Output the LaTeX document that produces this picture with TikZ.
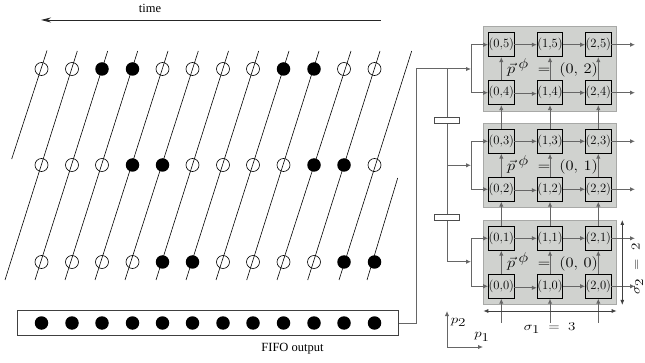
\documentclass[tikz,border=0pt]{standalone}
\usepackage{fontspec}
\usepackage{amsmath}
\newfontfamily\tms{Liberation Serif}
\usetikzlibrary{arrows.meta}
\definecolor{wire}{HTML}{666666}
\definecolor{panel}{HTML}{D0D2CF}
\definecolor{panelb}{HTML}{A8A9A7}
\tikzset{
  x=1pt,y=-1pt,
  hatch/.style={black,line width=0.6pt},
  opendot/.style={circle,draw=black,line width=0.6pt,minimum size=13pt,inner sep=0pt},
  fulldot/.style={circle,fill=black,minimum size=13.5pt,inner sep=0pt},
  wireline/.style={draw=wire,line width=1pt},
  wirearrow/.style={wireline,-{Latex[length=5pt,width=4.5pt]}},
  dblarrow/.style={draw=black!75,line width=0.8pt,{Latex[length=5pt,width=4pt]}-{Latex[length=5pt,width=4pt]}},
  panelbox/.style={draw=panelb,fill=panel,line width=0.9pt,minimum width=133.4pt,minimum height=84.4pt,inner sep=0pt},
  pebox/.style={draw=black,line width=0.8pt,minimum size=24pt,inner sep=0pt,font=\fontsize{12.6}{13}\selectfont},
  capbox/.style={draw=black!70,fill=white,line width=0.8pt,minimum width=25pt,minimum height=6.4pt,inner sep=0pt},
  captext/.style={font=\tms\fontsize{12.5}{14}\selectfont,inner sep=0pt},
}
\begin{document}
\begin{tikzpicture}
\useasboundingbox (0,0) rectangle (645,363);
% time
\node[captext] (timelabel) at (150,8) {time};
\coordinate (timeR) at (380.5,20);
\coordinate (timeL) at (41,20);
\draw[line width=0.9pt,black!85,-{Stealth[length=10pt,width=5pt]}] (timeR) -- (timeL);
% hatch lines
\coordinate (sA) at (47,50.5); \coordinate (sB) at (11.7,159);
\draw[hatch] (sA) -- (sB);
\foreach \i/\b/\t in {1/5/77.3,2/35/107.7,3/65/137.7,4/95/168,5/125/198.3,6/156/228.5,7/186/258.7,8/216/289,9/246.7/319,10/277/351,11/307.7/380,12/339/411.7}{
  \coordinate (hb\i) at (\b,280);
  \coordinate (ht\i) at (\t,51);
  \draw[hatch] (hb\i) -- (ht\i);
}
\coordinate (hb13) at (367,280); \coordinate (ht13) at (397.7,178);
\draw[hatch] (hb13) -- (ht13);
% dots
\foreach \n/\x/\a/\b/\c in {
 1/41.5/o/o/o,2/72/o/o/o,3/102/f/o/o,4/132.5/f/f/o,5/162.5/o/f/f,6/192.5/o/o/f,
 7/223/o/o/o,8/253/o/o/o,9/283.5/f/o/o,10/314/f/f/o,11/344/o/f/f,12/374.5/o/o/f}{
  \if\a f\node[fulldot] (ra\n) at (\x,69) {};\else\node[opendot] (ra\n) at (\x,69) {};\fi
  \if\b f\node[fulldot] (rb\n) at (\x,165) {};\else\node[opendot] (rb\n) at (\x,165) {};\fi
  \if\c f\node[fulldot] (rc\n) at (\x,262) {};\else\node[opendot] (rc\n) at (\x,262) {};\fi
}
% FIFO
\node[draw=black!75,line width=0.9pt,minimum width=381pt,minimum height=24.5pt,inner sep=0pt] (fifo) at (208,323) {};
\foreach \n/\x in {1/41.5,2/72,3/102,4/132.5,5/162.5,6/192.5,7/223,8/253,9/283.5,10/314,11/344,12/374.5}{
  \node[fulldot] (fd\n) at (\x,323) {};
}
\node[captext] (fifolabel) at (292.5,349) {FIFO output};
% panels
\node[panelbox] (panelT) at (550,68.8) {};
\node[panelbox] (panelM) at (550,165.5) {};
\node[panelbox] (panelB) at (550,262.3) {};
% panel labels
\foreach \nm/\y/\v in {T/68/2,M/165/1,B/262/0}{
  \node[inner sep=0pt] (lab\nm) at (552.5,\y) {\scalebox{1.14}[1]{\fontsize{13.5}{15}\selectfont $\vec{p}^{\,\,\textstyle\phi}\;=\;(0,\,\v)$}};
}
% PEs
\foreach \c/\x in {0/501.3,1/550,2/598.3}{
  \foreach \r/\y in {0/286.3,1/238.3,2/189.3,3/141.3,4/92.7,5/44.7}{
    \node[pebox] (pe\c\r) at (\x,\y) {(\c,\r)};
  }
}
% horizontal wires
\foreach \r/\s in {0/1.5,1/0,2/1,3/0,4/1,5/0}{
  \draw[wirearrow] ([yshift=-\s pt]pe0\r.east) -- ([yshift=-\s pt]pe1\r.west);
  \draw[wirearrow] (pe1\r.east) -- (pe2\r.west);
  \coordinate (out\r) at (635,0 |- pe2\r.east);
  \draw[wirearrow] (pe2\r.east) -- (out\r);
}
% vertical wires
\foreach \c in {0,1,2}{
  \foreach \r/\u in {0/1,1/2,2/3,3/4,4/5}{
    \draw[wirearrow] (pe\c\r.north) -- (pe\c\u.south);
  }
  \coordinate (in\c) at (pe\c0 |- 0,322.7);
  \draw[wirearrow] (in\c) -- (pe\c0.south);
}
% feed network
\coordinate (fo) at (416.7,323);
\coordinate (ft) at (416.7,69);
\coordinate (bus) at (447,69);
\coordinate (busM) at (447,165.3);
\coordinate (busB) at (447,261.7);
\coordinate (jT) at (471,69);
\coordinate (jM) at (471,165.3);
\coordinate (jB) at (471,261.7);
\draw[wireline] (fifo.east) -- (fo) -- (ft) -- (bus);
\draw[wireline] (bus) -- (busB);
\draw[wirearrow] (bus) -- (jT);
\draw[wirearrow] (busM) -- (jM);
\draw[wirearrow] (busB) -- (jB);
\foreach \j/\u/\d in {T/5/4,M/3/2,B/1/0}{
  \draw[wirearrow] (j\j) |- (pe0\u.west);
  \draw[wirearrow] (j\j) |- (pe0\d.west);
}
\node[capbox] (capA) at (446.8,120.5) {};
\node[capbox] (capB) at (446.8,217.3) {};
% dimensions
\coordinate (dl) at (483.3,311); \coordinate (dr) at (616.7,311);
\draw[dblarrow] (dl) -- (dr);
\coordinate (dt) at (622.3,220); \coordinate (db) at (622.3,305);
\draw[dblarrow] (dt) -- (db);
\node[inner sep=0pt] (sigone) at (549.7,328) {\scalebox{1.25}[1]{\fontsize{13}{14}\selectfont $\sigma_{\textstyle 1}\;=\;3$}};
\node[inner sep=0pt,rotate=90] (sigtwo) at (637.5,269) {\scalebox{1.25}[1]{\fontsize{13}{14}\selectfont $\sigma_{\textstyle 2}\;=\;2$}};
% axes
\coordinate (ax) at (447,347); \coordinate (ay) at (447,311); \coordinate (az) at (483,347);
\draw[wireline,-{Latex[length=5pt,width=4.5pt]}] (ax) -- (ay);
\draw[wireline,-{Latex[length=5pt,width=4.5pt]}] (ax) -- (az);
\node[inner sep=0pt] (ptwo) at (458.5,322.5) {\scalebox{1.25}[1]{\fontsize{12.5}{14}\selectfont $p_{\textstyle 2}$}};
\node[inner sep=0pt] (pone) at (482,337) {\scalebox{1.25}[1]{\fontsize{12.5}{14}\selectfont $p_{\textstyle 1}$}};
\end{tikzpicture}
\end{document}
